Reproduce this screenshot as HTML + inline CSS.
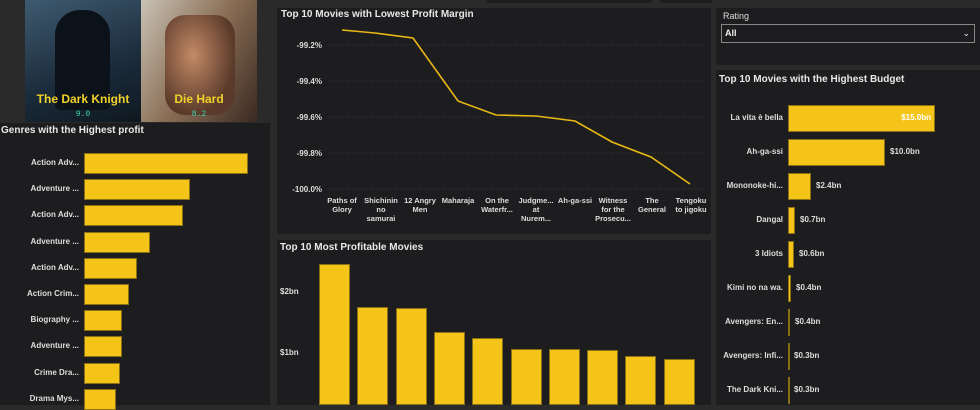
<!DOCTYPE html><html><head><style>
body{margin:0;width:980px;height:405px;background:#2a2a2b;overflow:hidden;font-family:"Liberation Sans",sans-serif;position:relative}
.p{position:absolute;background:#1d1d1f}
.t{position:absolute;color:#e8e8e8;font-size:11px;font-weight:bold;white-space:nowrap}
.l{position:absolute;color:#ddd;font-size:8px;font-weight:bold;text-align:right;white-space:nowrap}
.b{position:absolute;background:#f4c518;border:1px solid #8a7014;box-sizing:border-box}
</style></head><body>
<div class="p" style="left:487px;top:0;width:165px;height:3px;background:#1d1d1f"></div>
<div class="p" style="left:660px;top:0;width:52px;height:3px"></div>
<!-- posters -->
<div style="position:absolute;left:25px;top:0;width:116px;height:122px;background:linear-gradient(160deg,#3e5a70,#1b2b3a 60%,#0f1820)"></div>
<div style="position:absolute;left:55px;top:10px;width:55px;height:100px;background:#0c1219;border-radius:25px 25px 5px 5px"></div>
<div style="position:absolute;left:141px;top:0;width:116px;height:122px;background:linear-gradient(120deg,#c9c2b5,#8a6e55 50%,#3a2a22)"></div>
<div style="position:absolute;left:165px;top:15px;width:70px;height:100px;background:radial-gradient(ellipse at 40% 40%,#c48a66,#5a3a2a 70%);border-radius:20px"></div>
<div style="position:absolute;left:25px;top:92px;width:116px;text-align:center;color:#f1d22a;font-weight:bold;font-size:12px">The Dark Knight</div>
<div style="position:absolute;left:25px;top:110px;width:116px;text-align:center;color:#3ad6b0;font-size:8px;font-family:'Liberation Mono',monospace">9.0</div>
<div style="position:absolute;left:141px;top:92px;width:116px;text-align:center;color:#f1d22a;font-weight:bold;font-size:12px">Die Hard</div>
<div style="position:absolute;left:141px;top:110px;width:116px;text-align:center;color:#3ad6b0;font-size:8px;font-family:'Liberation Mono',monospace">8.2</div>
<!-- genres -->
<div class="p" style="left:0;top:123px;width:270px;height:282px"></div>
<div class="t" style="left:1px;top:125px;font-size:10px">Genres with the Highest profit</div>
<div id="g"></div>
<!-- line chart -->
<div class="p" style="left:277px;top:8px;width:434px;height:226px"></div>
<div class="t" style="left:281px;top:9px;font-size:10px">Top 10 Movies with Lowest Profit Margin</div>
<svg style="position:absolute;left:0;top:0" width="980" height="405">
<g stroke="#3a3a3a" stroke-dasharray="1,2"><line x1="328" x2="705" y1="45" y2="45"/><line x1="328" x2="705" y1="81" y2="81"/><line x1="328" x2="705" y1="117" y2="117"/><line x1="328" x2="705" y1="153" y2="153"/><line x1="328" x2="705" y1="189" y2="189"/></g>
<g font-family="Liberation Sans" font-size="8" font-weight="bold" fill="#ddd" text-anchor="end"><text x="322" y="48">-99.2%</text><text x="322" y="84">-99.4%</text><text x="322" y="120">-99.6%</text><text x="322" y="156">-99.8%</text><text x="322" y="192">-100.0%</text></g>
<polyline fill="none" stroke="#e8b914" stroke-width="1.6" points="342,30 375,33 413,38 458,101 496,115 536,116 575,121 612,142 651,157 690,184"/>
<g font-family="Liberation Sans" font-size="7.5" font-weight="bold" fill="#ddd" text-anchor="middle">
<text x="342" y="203">Paths of</text><text x="342" y="212">Glory</text>
<text x="381" y="203">Shichinin</text><text x="381" y="212">no</text><text x="381" y="221">samurai</text>
<text x="420" y="203">12 Angry</text><text x="420" y="212">Men</text>
<text x="458" y="203">Maharaja</text>
<text x="497" y="203">On the</text><text x="497" y="212">Waterfr...</text>
<text x="536" y="203">Judgme...</text><text x="536" y="212">at</text><text x="536" y="221">Nurem...</text>
<text x="575" y="203">Ah-ga-ssi</text>
<text x="613" y="203">Witness</text><text x="613" y="212">for the</text><text x="613" y="221">Prosecu...</text>
<text x="652" y="203">The</text><text x="652" y="212">General</text>
<text x="691" y="203">Tengoku</text><text x="691" y="212">to jigoku</text>
</g></svg>
<!-- profitable -->
<div class="p" style="left:277px;top:240px;width:434px;height:165px"></div>
<div class="t" style="left:280px;top:242px;font-size:10px">Top 10 Most Profitable Movies</div>
<div class="l" style="left:280px;top:287px;text-align:left">$2bn</div>
<div class="l" style="left:280px;top:348px;text-align:left">$1bn</div>
<div id="v"></div>
<!-- slicer -->
<div class="p" style="left:716px;top:8px;width:264px;height:57px"></div>
<div class="t" style="left:723px;top:11px;font-size:9px;font-weight:normal;color:#ddd">Rating</div>
<div style="position:absolute;left:721px;top:24px;width:249px;height:17px;border:1px solid #888;color:#eee;font-size:9px;font-weight:bold;line-height:17px;padding-left:3px;box-sizing:content-box">All<span style="position:absolute;right:4px;top:0;font-weight:normal">&#8964;</span></div>
<!-- budget -->
<div class="p" style="left:716px;top:70px;width:264px;height:335px"></div>
<div class="t" style="left:719px;top:74px;font-size:10px">Top 10 Movies with the Highest Budget</div>
<div id="r"></div>
<script>
var g=document.getElementById('g'),h='';
var gl=["Action Adv...","Adventure ...","Action Adv...","Adventure ...","Action Adv...","Action Crim...","Biography ...","Adventure ...","Crime Dra...","Drama Mys..."];
var ge=[248,190,183,150,137,129,122,122,120,116];
for(var i=0;i<10;i++){var y=163+i*26.2;h+='<div class="l" style="left:0;width:79px;top:'+(y-5)+'px">'+gl[i]+'</div><div class="b" style="left:84px;top:'+(y-10)+'px;width:'+(ge[i]-84)+'px;height:21px"></div>';}
g.innerHTML=h;h='';
var vt=[264,307,308,332,338,349,349,350,356,359];
for(i=0;i<10;i++){h+='<div class="b" style="left:'+(319+i*38.3)+'px;top:'+vt[i]+'px;width:31px;height:'+(405-vt[i])+'px"></div>';}
document.getElementById('v').innerHTML=h;h='';
var rl=["La vita è bella","Ah-ga-ssi","Mononoke-hi...","Dangal","3 Idiots","Kimi no na wa.","Avengers: En...","Avengers: Infi...","The Dark Kni..."];
var rv=["$15.0bn","$10.0bn","$2.4bn","$0.7bn","$0.6bn","$0.4bn","$0.4bn","$0.3bn","$0.3bn"];
var re=[935,885,811,795,794,791,790,789,789];
for(i=0;i<9;i++){var y=118+i*34;h+='<div class="l" style="left:700px;width:83px;top:'+(y-5)+'px">'+rl[i]+'</div><div class="b" style="left:788px;top:'+(y-13)+'px;width:'+(re[i]-788)+'px;height:27px"></div>';
if(i==0)h+='<div class="l" style="left:880px;width:51px;top:'+(y-5)+'px;color:#fff">'+rv[i]+'</div>';else h+='<div class="l" style="left:'+(re[i]+5)+'px;top:'+(y-5)+'px;text-align:left">'+rv[i]+'</div>';}
document.getElementById('r').innerHTML=h;
</script>
</body></html>
